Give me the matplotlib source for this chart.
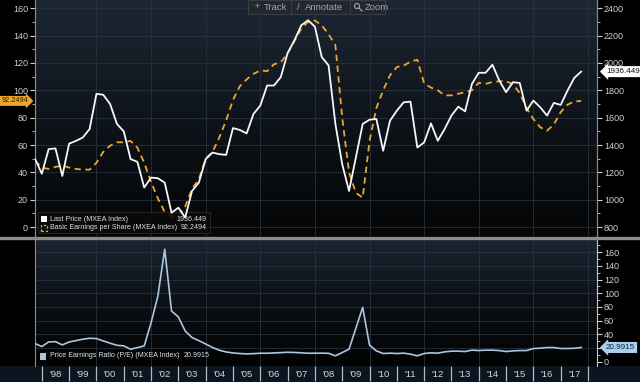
import numpy as np
import matplotlib.pyplot as plt
import matplotlib.transforms as mtransforms
from matplotlib.colors import LinearSegmentedColormap
from matplotlib.patches import Rectangle, Ellipse
from matplotlib.lines import Line2D
from matplotlib.ticker import MultipleLocator, FixedLocator, NullFormatter, FuncFormatter

# quarterly data, Q3 1997 .. Q3 2017
start_year = 1997.75

last_price = [1300, 1190, 1370, 1375, 1174, 1410, 1430, 1455, 1517, 1774,
              1767, 1700, 1554, 1500, 1297, 1277, 1089, 1162, 1157, 1125,
              905, 942, 870, 1064, 1125, 1297, 1345, 1333, 1328, 1524,
              1510, 1485, 1627, 1688, 1835, 1835, 1896, 2072, 2165, 2275,
              2312, 2265, 2043, 1982, 1554, 1260, 1064, 1309, 1554, 1585,
              1590, 1358, 1578, 1651, 1712, 1717, 1382, 1419, 1558, 1431,
              1517, 1615, 1680, 1646, 1847, 1928, 1928, 1987, 1872, 1786,
              1859, 1854, 1651, 1725, 1676, 1615, 1708, 1693, 1798, 1891,
              1936.449]

eps = [48.4, 43.5, 42.5, 44, 45, 43.5, 42.5, 42, 42, 47,
       55, 59.5, 62, 62, 63, 58, 47, 33, 21, 11,
       8, 8.5, 15, 28, 35, 50, 55, 65.5, 78, 93,
       103, 108, 112, 114.5, 114, 119, 120.5, 127, 136, 145,
       150, 151, 147.5, 141, 133, 80, 40, 25, 21.5, 63,
       87, 100, 111, 117, 118, 121, 122.3, 105, 102, 100,
       96.3, 96.3, 97.5, 98.6, 100, 105.5, 104.7, 106, 106.6, 106.6,
       104.5, 98, 87, 79, 73, 70.5, 75, 84, 89.5, 91.8,
       92.2494]

pe_ratio = [26.7, 22.3, 29, 29.5, 24.7, 29, 31, 33, 34.4, 34,
            30.5, 27.2, 24.2, 23.3, 18.4, 20.8, 23.3, 57, 96, 164,
            74, 65.5, 45, 35.4, 31, 26, 21, 17, 14.5, 13,
            12.2, 11.6, 12, 12.6, 12.6, 13, 13.5, 14, 13.7, 13.2,
            12.6, 12.6, 12.7, 12.5, 8.8, 13.6, 18.5, 49, 79.4, 24.4,
            16, 12.2, 12.7, 12.2, 12.7, 11.3, 8.8, 12.2, 13.2, 12.7,
            14.6, 15.6, 15.6, 15.1, 17.1, 16.5, 17.1, 17.1, 16.5, 15.1,
            16, 16.5, 16.5, 19.4, 20, 20.9, 20.9, 19.5, 19.5, 19.8,
            20.9915]

year_labels = ["'98", "'99", "'00", "'01", "'02", "'03", "'04", "'05", "'06", "'07",
               "'08", "'09", "'10", "'11", "'12", "'13", "'14", "'15", "'16", "'17"]
first_year = 1998

quarters = start_year + 0.25 * np.arange(len(last_price))

plt.rcParams['font.family'] = ['Liberation Sans', 'DejaVu Sans']

W, H = 640, 382
fig = plt.figure(figsize=(6.4, 3.82), dpi=100, facecolor='black')

ax1 = fig.add_axes([35 / W, 1 - 236 / H, 562 / W, 236 / H])
ax2 = fig.add_axes([35 / W, 1 - 366 / H, 562 / W, 127 / H])

# dark gradient backgrounds
grad = np.linspace(1, 0, 256).reshape(-1, 1)
cm_top = LinearSegmentedColormap.from_list('top', ['#040506', '#0e141b', '#1d2734'])
cm_bot = LinearSegmentedColormap.from_list('bot', ['#020202', '#0b1016', '#1b2431'])
ax1.imshow(grad, extent=[0, 1, 0, 1], transform=ax1.transAxes, cmap=cm_top,
           aspect='auto', zorder=-5)
ax2.imshow(grad, extent=[0, 1, 0, 1], transform=ax2.transAxes, cmap=cm_bot,
           aspect='auto', zorder=-5)

x_lo, x_hi = 1997.75, 2018.33
grid_c = '#28313c'
tick_c = '#cfcfcf'
leg_fs = 5.1
tag_fs = 5.8

# --- top panel ---
ax1r = ax1.twinx()
ax1.plot(quarters, eps, color='#eea52f', lw=1.3, dashes=(3.5, 2.5), zorder=3)
ax1r.plot(quarters, last_price, color='#f7f7f7', lw=1.3, zorder=4)

ax1.set_xlim(x_lo, x_hi)
ax1.set_ylim(-6.5, 166)
ax1r.set_ylim(735, 2460)

ax1.yaxis.set_major_locator(MultipleLocator(20))
ax1.yaxis.set_minor_locator(MultipleLocator(10))
ax1r.yaxis.set_major_locator(MultipleLocator(200))
ax1r.yaxis.set_minor_locator(MultipleLocator(100))
ax1.set_xticks(np.arange(2000, 2019, 2))
ax1.tick_params(axis='x', length=0, labelbottom=False)
ax1.grid(True, axis='both', color=grid_c, lw=0.6)

for a in (ax1, ax1r):
    a.tick_params(axis='y', which='major', colors=tick_c, labelsize=6.5,
                  length=3.5, width=0.8, pad=1.5)
    a.tick_params(axis='y', which='minor', colors=tick_c, length=2, width=0.6)
    for s in ('top', 'bottom'):
        a.spines[s].set_visible(False)
    a.spines['left'].set_color('#8a8a8a')
    a.spines['right'].set_color('#8a8a8a')

# legend box top panel
ax1.add_patch(Rectangle((0.005, 0.012), 0.306, 0.088, transform=ax1.transAxes,
                        fc='#0a0a0a', ec='#2e2e2e', lw=0.6, alpha=0.9, zorder=6))
ax1.add_patch(Rectangle((0.011, 0.06), 0.011, 0.025, transform=ax1.transAxes,
                        fc='white', ec='none', zorder=7))
ax1.add_patch(Rectangle((0.011, 0.022), 0.011, 0.025, transform=ax1.transAxes,
                        fc='none', ec='#eea52f', lw=0.9, ls=(0, (2, 1.5)), zorder=7))
leg_kw = dict(transform=ax1.transAxes, fontsize=leg_fs,
              color='#e0e0e0', va='center', zorder=8)
ax1.text(0.027, 0.072, 'Last Price (MXEA Index)', **leg_kw)
ax1.text(0.027, 0.034, 'Basic Earnings per Share (MXEA Index)', **leg_kw)
ax1.text(0.306, 0.072, f'{last_price[-1]:.3f}', ha='right', **leg_kw)
ax1.text(0.306, 0.034, f'{eps[-1]:.4f}', ha='right', **leg_kw)

# value tags
trl = mtransforms.blended_transform_factory(ax1.transAxes, ax1.transData)
ax1.text(-0.0125, eps[-1], f'{eps[-1]:.4f}', transform=trl, ha='right', va='center',
         fontsize=5.3, color='#1a1a1a', clip_on=False, zorder=9,
         bbox=dict(boxstyle='rarrow,pad=0.2', fc='#f2a628', ec='none'))
trr = mtransforms.blended_transform_factory(ax1r.transAxes, ax1r.transData)
ax1r.text(1.016, last_price[-1], f'{last_price[-1]:.3f}', transform=trr, ha='left',
          va='center', fontsize=tag_fs, color='#111111', clip_on=False,
          zorder=9, bbox=dict(boxstyle='larrow,pad=0.25', fc='white', ec='none'))

# --- bottom panel ---
ax2.plot(quarters, pe_ratio, color='#aac6e0', lw=1.2, zorder=3)
ax2.set_xlim(x_lo, x_hi)
ax2.set_ylim(-6, 179)
ax2.yaxis.tick_right()
ax2.yaxis.set_major_locator(MultipleLocator(20))
ax2.yaxis.set_minor_locator(MultipleLocator(10))
# the value tag sits on top of the 20 label, as in the source chart
ax2.yaxis.set_major_formatter(FuncFormatter(lambda v, p: '' if abs(v - 20) < 1e-6 else f'{v:.0f}'))
ax2.tick_params(axis='y', which='major', colors=tick_c, labelsize=6.5,
                length=3.5, width=0.8, pad=1.5)
ax2.tick_params(axis='y', which='minor', colors=tick_c, length=2, width=0.6)

bounds = np.arange(first_year, first_year + len(year_labels) + 1)
mids = bounds[:-1] + 0.5
ax2.xaxis.set_major_locator(FixedLocator(bounds))
ax2.xaxis.set_major_formatter(NullFormatter())
ax2.xaxis.set_minor_locator(FixedLocator(mids))
ax2.set_xticklabels(year_labels, minor=True)
ax2.tick_params(axis='x', which='major', length=11, width=0.9, colors='#b8b8b8')
ax2.tick_params(axis='x', which='minor', length=0, pad=3, labelsize=6.8,
                labelcolor='#d8d8d8')
for s in ('top', 'bottom'):
    ax2.spines[s].set_visible(False)
ax2.spines['left'].set_color('#8a8a8a')
ax2.spines['right'].set_color('#c8c8c8')

for g in np.arange(2000, 2019, 2):
    ax2.axvline(g, color=grid_c, lw=0.6, zorder=1)
for g in np.arange(20, 180, 20):
    ax2.axhline(g, color=grid_c, lw=0.6, zorder=1)

ax2.add_patch(Rectangle((0.009, 0.05), 0.011, 0.05, transform=ax2.transAxes,
                        fc='#aac6e0', ec='none', zorder=7))
ax2.text(0.027, 0.079, 'Price Earnings Ratio (P/E) (MXEA Index)', transform=ax2.transAxes,
         fontsize=leg_fs, color='#e0e0e0', va='center', zorder=8)
ax2.text(0.264, 0.079, f'{pe_ratio[-1]:.4f}', transform=ax2.transAxes,
         fontsize=leg_fs, color='#e0e0e0', va='center', zorder=8)
trb = mtransforms.blended_transform_factory(ax2.transAxes, ax2.transData)
ax2.text(1.016, pe_ratio[-1], f'{pe_ratio[-1]:.4f}', transform=trb, ha='left',
         va='center', fontsize=tag_fs, color='#10202e', clip_on=False,
         zorder=9, bbox=dict(boxstyle='larrow,pad=0.25', fc='#a9cff0', ec='none'))

# panel separator and date strip
fig.add_artist(Line2D([0, 1], [1 - 237.5 / H] * 2, color='#8c8c8c', lw=2.4))
fig.add_artist(Rectangle((0, 0), 1, 16 / H, transform=fig.transFigure,
                         fc='#0a1522', ec='none', zorder=-1))

# toolbar
fig.add_artist(Rectangle((248 / W, 1 - 14 / H), 137 / W, 14 / H, transform=fig.transFigure,
                         fc='#23282f', ec='#3c424a', lw=0.6, zorder=10))
tb_kw = dict(transform=fig.transFigure, fontsize=6.8, color='#a0a5ab', va='center', zorder=11)
ty = 1 - 7 / H
fig.text(255 / W, ty, '+', **tb_kw)
fig.text(264 / W, ty, 'Track', **tb_kw)
fig.text(297 / W, ty, '/', **tb_kw)
fig.text(305 / W, ty, 'Annotate', **tb_kw)
fig.text(365 / W, ty, 'Zoom', **tb_kw)
# magnifier icon
fig.add_artist(Ellipse((357 / W, 1 - 6 / H), 5 / W, 5 / H, transform=fig.transFigure,
                       fc='none', ec='#a0a5ab', lw=0.8, zorder=11))
fig.add_artist(Line2D([359 / W, 362 / W], [1 - 8 / H, 1 - 11 / H], color='#a0a5ab',
                      lw=0.9, zorder=11))
for sx in (291, 350):
    fig.add_artist(Line2D([sx / W] * 2, [1 - 13 / H, 1 - 1 / H], color='#3c424a', lw=0.6,
                          zorder=11))

fig.savefig('out.png', dpi=100, facecolor='black')
